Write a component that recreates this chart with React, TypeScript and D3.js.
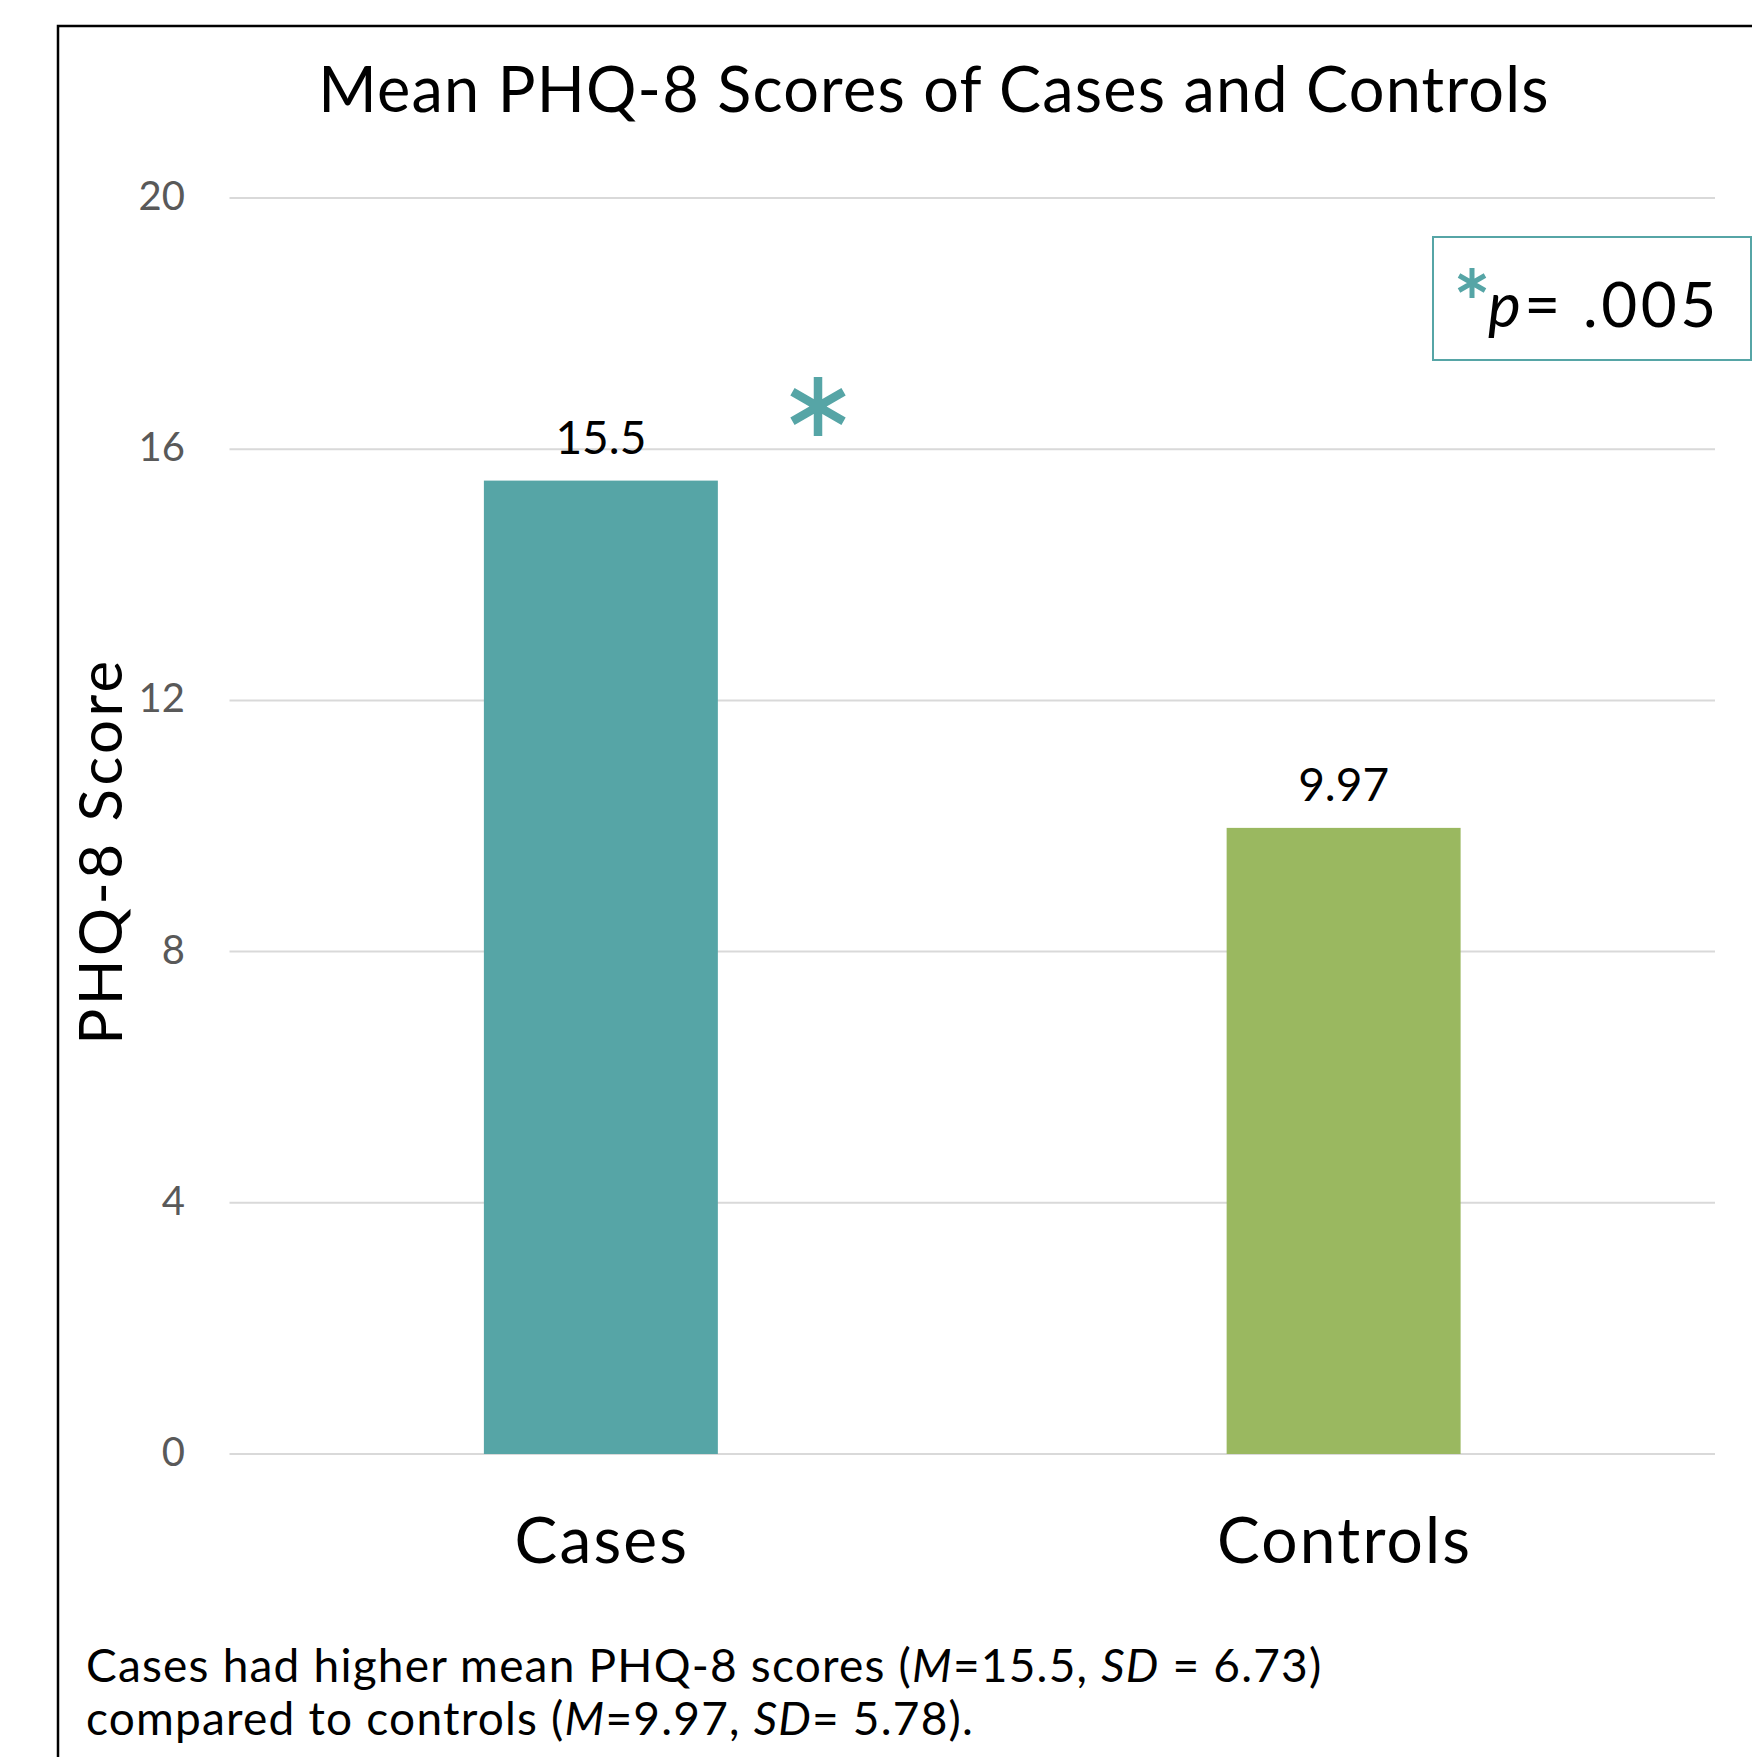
import React from 'react';
import * as d3 from 'd3';

const categories = ['Cases', 'Controls'];
const values = [15.5, 9.97];
const valueLabels = ['15.5', '9.97'];
const barColors = ['#56A5A6', '#9AB860'];
const yTicks = [0, 4, 8, 12, 16, 20];

const TEAL = '#56A5A6';
const FONT = 'Lato, "Open Sans", sans-serif';

function asteriskPath(cx: number, cy: number, r: number) {
  const p = d3.path();
  [90, 30, -30].forEach((deg) => {
    const a = (deg * Math.PI) / 180;
    p.moveTo(cx - r * Math.cos(a), cy - r * Math.sin(a));
    p.lineTo(cx + r * Math.cos(a), cy + r * Math.sin(a));
  });
  return p.toString();
}

export default function App() {
  const W = 1752;
  const H = 1757;
  const y = d3.scaleLinear().domain([0, 20]).range([1454, 198]);
  const x = d3
    .scaleBand<string>()
    .domain(categories)
    .range([229.5, 1715])
    .paddingInner(0.685)
    .paddingOuter(0.3425);

  return (
    <svg
      width={W}
      height={H}
      style={{ position: 'absolute', left: 0, top: 0, background: '#fff' }}
      fontFamily={FONT}
    >
      <rect x={0} y={0} width={W} height={H} fill="#fff" />
      <rect x={58} y={26} width={1800} height={1800} fill="none" stroke="#000" strokeWidth={2.5} />

      <text x={934} y={112} textAnchor="middle" fontSize={63} letterSpacing={1.2} fill="#000">
        Mean PHQ-8 Scores of Cases and Controls
      </text>

      {yTicks.map((t) => (
        <g key={t}>
          <line x1={229.5} x2={1715} y1={y(t)} y2={y(t)} stroke="#D9D9D9" strokeWidth={2} />
          <text x={185} y={y(t) + 12} textAnchor="end" fontSize={40} fill="#595959">
            {t}
          </text>
        </g>
      ))}

      {categories.map((c, i) => (
        <g key={c}>
          <rect
            x={x(c)!}
            y={y(values[i])}
            width={x.bandwidth()}
            height={y(0) - y(values[i])}
            fill={barColors[i]}
          />
          <text
            x={x(c)! + x.bandwidth() / 2}
            y={y(values[i]) - 27}
            textAnchor="middle"
            fontSize={46}
            fill="#000"
          >
            {valueLabels[i]}
          </text>
          <text
            x={x(c)! + x.bandwidth() / 2 + 1}
            y={1563}
            textAnchor="middle"
            fontSize={64}
            letterSpacing={2.2}
            fill="#000"
          >
            {c}
          </text>
        </g>
      ))}

      <path d={asteriskPath(818, 406.5, 29.5)} stroke={TEAL} strokeWidth={8.5} fill="none" />

      <text
        transform="translate(122,851) rotate(-90)"
        textAnchor="middle"
        fontSize={60}
        letterSpacing={3.5}
        fill="#000"
      >
        PHQ-8 Score
      </text>

      <rect x={1433} y={237} width={318} height={123} fill="none" stroke={TEAL} strokeWidth={2} />
      <path d={asteriskPath(1472, 283, 15)} stroke={TEAL} strokeWidth={5} fill="none" />
      <text x={1488} y={327} fontSize={62} letterSpacing={3.5} fill="#000">
        <tspan fontStyle="italic">p</tspan>= .005
      </text>

      <text x={86} y={1682} fontSize={46} letterSpacing={1.2} fill="#000">
        Cases had higher mean PHQ-8 scores (<tspan fontStyle="italic">M</tspan>=15.5,{' '}
        <tspan fontStyle="italic">SD</tspan> = 6.73)
      </text>
      <text x={86} y={1735} fontSize={46} letterSpacing={1.2} fill="#000">
        compared to controls (<tspan fontStyle="italic">M</tspan>=9.97, <tspan fontStyle="italic">SD</tspan>= 5.78).
      </text>
    </svg>
  );
}
